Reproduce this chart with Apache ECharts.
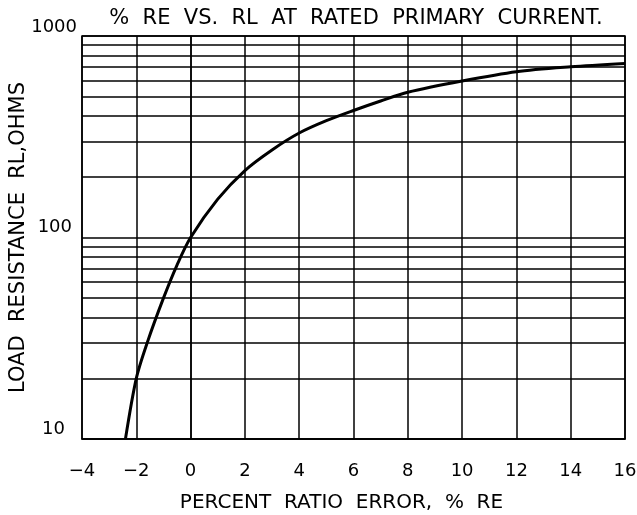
<!DOCTYPE html>
<html>
<head>
<meta charset="utf-8">
<script src="https://cdn.jsdelivr.net/npm/echarts@6/dist/echarts.min.js"></script>
<style>html,body{margin:0;padding:0;background:#fff;}#c{width:637px;height:515px;}</style>
</head>
<body>
<div id="c"></div>
<script>
var titleText = '%  RE  VS.  RL  AT  RATED  PRIMARY  CURRENT.';
var xName = 'PERCENT  RATIO  ERROR,  %  RE';
var yName = 'LOAD  RESISTANCE  RL,OHMS';
var xTicks = [-4, -2, 0, 2, 4, 6, 8, 10, 12, 14, 16];
var yTicks = [10, 100, 1000];
var minorLines = [20, 30, 40, 50, 60, 70, 80, 90, 200, 300, 400, 500, 600, 700, 800, 900];
var reValues = [-2.4, -2.0, -1.6, -1.0, -0.5, 0, 1, 2, 3, 4, 5, 6, 7, 8, 10, 12, 14, 16];
var rlValues = [10, 20, 30, 50, 73, 100, 155, 215, 272, 330, 380, 427, 476, 526, 598, 665, 703, 731];

var font = 'DejaVu Sans';
var chart = echarts.init(document.getElementById('c'), null, {renderer: 'canvas'});
var pts = reValues.map(function (v, i) { return [v, rlValues[i]]; });
chart.setOption({
  animation: false,
  backgroundColor: '#fff',
  title: {
    text: titleText, left: 351, textAlign: 'center', top: 3,
    textStyle: {fontFamily: font, fontSize: 21, fontWeight: 'normal', color: '#000'}
  },
  grid: {left: 82, top: 36, right: 12, bottom: 76, outerBoundsMode: 'none', containLabel: false,
    show: true, borderColor: '#000', borderWidth: 1.5, backgroundColor: 'transparent'},
  xAxis: {
    type: 'value', min: xTicks[0], max: xTicks[xTicks.length - 1], interval: 2,
    name: xName, nameLocation: 'middle', nameGap: 54, nameMoveOverlap: false,
    nameTextStyle: {fontFamily: font, fontSize: 20, color: '#000', padding: [0, 24, 0, 0]},
    axisLine: {show: true, lineStyle: {color: '#000', width: 1.5}},
    axisTick: {show: false},
    axisLabel: {fontFamily: font, fontSize: 18, color: '#000', margin: 23,
      formatter: function (v) { return String(v).replace('-', '\u2212'); }},
    splitLine: {show: true, lineStyle: {color: '#000', width: 1.5}}
  },
  yAxis: {
    type: 'log', logBase: 10, min: yTicks[0], max: yTicks[yTicks.length - 1],
    name: yName, nameLocation: 'middle', nameGap: 53, nameRotate: 90, nameMoveOverlap: false,
    nameTextStyle: {fontFamily: font, fontSize: 21, color: '#000'},
    axisLine: {show: true, lineStyle: {color: '#000', width: 1.5}},
    axisTick: {show: false},
    axisLabel: {fontFamily: font, fontSize: 18, color: '#000', margin: 5, verticalAlign: 'bottom',
      formatter: function (v) {
        var k = v < 50 ? 'a' : (v < 500 ? 'b' : 'c');
        return '{' + k + '|' + v + '}';
      },
      rich: {
        a: {fontFamily: font, fontSize: 18, color: '#000', padding: [0, 12, 1, 0]},
        b: {fontFamily: font, fontSize: 18, color: '#000', padding: [0, 5, 1, 0]},
        c: {fontFamily: font, fontSize: 18, color: '#000', padding: [0, 0, 0, 0]}
      }},
    splitLine: {show: true, lineStyle: {color: '#000', width: 1.5}}
  },
  series: [{
    type: 'line', data: pts, smooth: 0.3, symbol: 'none',
    lineStyle: {color: '#000', width: 3},
    markLine: {
      silent: true, symbol: ['none', 'none'], label: {show: false},
      lineStyle: {color: '#000', width: 1.5, type: 'solid'},
      data: minorLines.map(function (v) { return {yAxis: v}; })
    }
  }]
});
</script>
</body>
</html>
